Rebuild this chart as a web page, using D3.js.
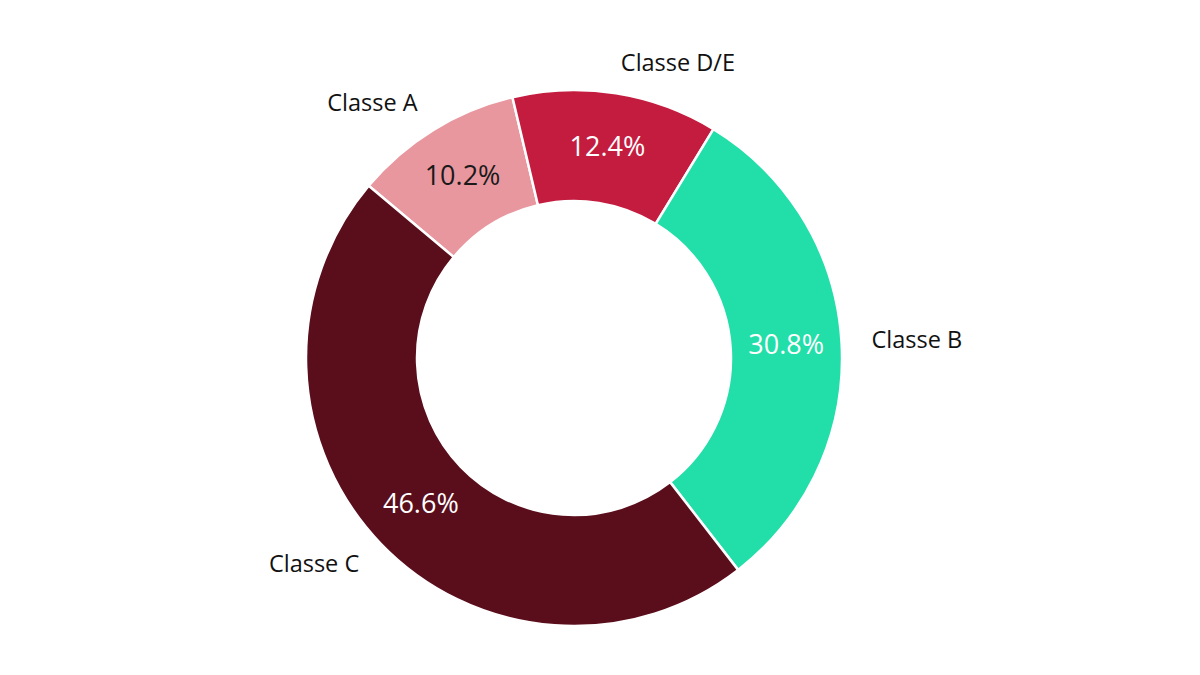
<!DOCTYPE html>
<html><head><meta charset="utf-8">
<script src="https://cdn.jsdelivr.net/npm/d3@7"></script>
<style>body{margin:0;background:#fff}svg{display:block}</style>
</head><body>
<svg id="c" width="1200" height="675"></svg>
<script>
const categories = ["Classe A", "Classe D/E", "Classe B", "Classe C"];
const values = [10.2, 12.4, 30.8, 46.6];
const colors = ["#E8979F", "#C41C3F", "#22DEA8", "#5A0D1B"];
const valueTextColors = ["#1a1a1a", "#ffffff", "#ffffff", "#ffffff"];

const W = 1200, H = 675, cx = 574, cy = 358, R = 268, r0 = 157;
const svg = d3.select("#c");
const g = svg.append("g").attr("transform", `translate(${cx},${cy})`);
const start = -50 * Math.PI / 180;
const pie = d3.pie().sort(null).value(d => d).startAngle(start).endAngle(start + 2 * Math.PI);
const arcs = pie(values);
const arc = d3.arc().innerRadius(r0).outerRadius(R);
const labelArc = d3.arc().innerRadius(298).outerRadius(298);
const font = "'Open Sans', sans-serif";

g.selectAll("path.slice").data(arcs).join("path")
  .attr("class", "slice")
  .attr("d", arc)
  .attr("fill", (d, i) => colors[i])
  .attr("stroke", "#fff").attr("stroke-width", 2.5);

g.selectAll("text.val").data(arcs).join("text")
  .attr("class", "val")
  .attr("transform", d => { const c = arc.centroid(d); return `translate(${c[0]},${c[1] - 3})`; })
  .attr("text-anchor", "middle").attr("dominant-baseline", "central")
  .attr("font-family", font).attr("font-size", 27)
  .attr("fill", (d, i) => valueTextColors[i])
  .text(d => d.data.toFixed(1) + "%");

g.selectAll("text.lab").data(arcs).join("text")
  .attr("class", "lab")
  .attr("transform", d => { const c = labelArc.centroid(d); return `translate(${c[0]},${c[1] - 2})`; })
  .attr("text-anchor", d => { const m = (d.startAngle + d.endAngle) / 2; return (m > 0 && m < Math.PI) ? "start" : "end"; })
  .attr("dominant-baseline", "central")
  .attr("font-family", font).attr("font-size", 23.5)
  .attr("fill", "#111")
  .text((d, i) => categories[i]);
</script>
</body></html>
